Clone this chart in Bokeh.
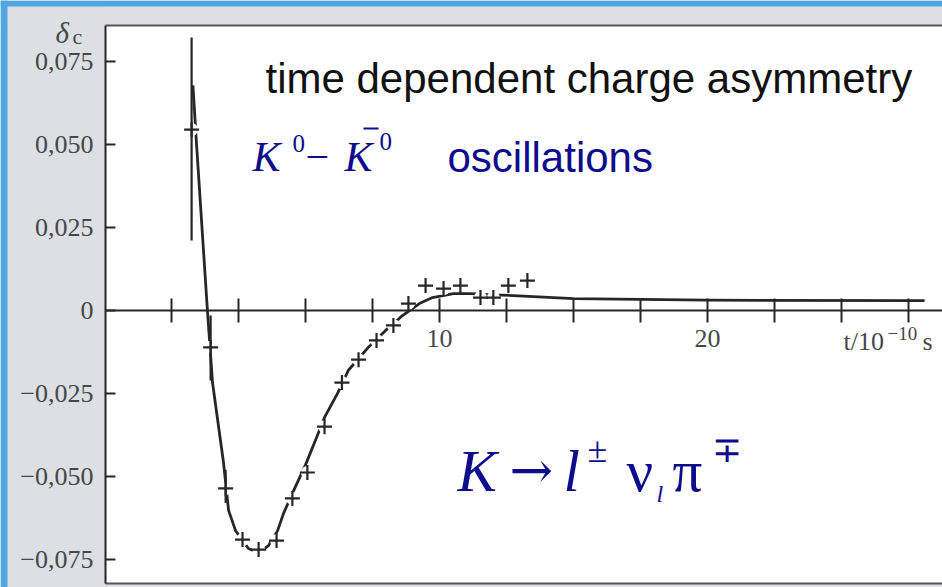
from bokeh.plotting import figure
from bokeh.models import (Range1d, FixedTicker, CustomJSTickFormatter, Label,
                          BoxAnnotation, LinearAxis)
from bokeh.embed import file_html
from bokeh.resources import INLINE
import json

# ---- measured charge asymmetry delta_c (crosses) vs proper time t / 1e-10 s ----
t_points = [0.75, 1.46, 2.02, 2.65, 3.25, 3.92, 4.51, 5.07, 5.71, 6.36, 6.98,
            7.65, 8.28, 8.84, 9.48, 10.15, 10.78, 11.53, 12.01, 12.57, 13.28]
delta_points = [0.0545, -0.0111, -0.0536, -0.0690, -0.0720, -0.0693, -0.0566,
                -0.0488, -0.0350, -0.0217, -0.0148, -0.0090, -0.0045, 0.0021,
                0.0075, 0.0066, 0.0075, 0.0039, 0.0039, 0.0075, 0.0090]

# error bars of the earliest bins
t_err = [0.75, 1.46, 2.02]
delta_err_low = [0.0211, -0.0211, -0.0580]
delta_err_high = [0.0822, -0.0015, -0.0480]

# fitted oscillation curve
t_fit = [0.80, 0.93, 1.34, 1.53, 1.94, 2.13, 2.39, 2.87, 3.25, 3.62, 3.96, 4.18,
         4.60, 5.00, 5.45, 5.71, 6.20, 6.60, 7.31, 7.99, 8.58, 9.25, 9.74, 10.52,
         11.16, 12.00, 12.76, 15.00, 20.00, 28.10]
delta_fit = [0.0678, 0.0506, 0.0000, -0.0217, -0.0458, -0.0602, -0.0663, -0.0717,
             -0.0730, -0.0708, -0.0663, -0.0611, -0.0535, -0.0465, -0.0375, -0.0322,
             -0.0249, -0.0180, -0.0114, -0.0060, -0.0018, 0.0021, 0.0039, 0.0051,
             0.0051, 0.0047, 0.0045, 0.0036, 0.0031, 0.0030]

# axes
y_ticks = [-0.075, -0.05, -0.025, 0.0, 0.025, 0.05, 0.075]
t_ticks = [0.0, 2.5, 5.0, 7.5, 10.0, 12.5, 15.0, 17.5, 20.0, 22.5, 25.0, 27.5]
t_labelled = [10, 20]
t_tick_labels = ["10", "20"]

# visible window and the boxed plot region inside it
t_view = (-6.381, 28.769)
d_view = (-0.08343, 0.09337)
t_axis = -2.463                # position of the delta axis
d_box = (-0.08223, 0.08584)    # lower / upper edge of the boxed region

W, H = 942, 587
INK = "#262626"
SCAN = "#474747"
EDGE = "#555555"
NAVY = "#0c0c8c"
PAPER = "#dcdfe3"
BLUE = "#50a6e0"
SERIF = "Liberation Serif"
SANS = "Liberation Sans"

p = figure(width=W, height=H, output_backend="svg", toolbar_location=None,
           x_range=Range1d(*t_view), y_range=Range1d(*d_view),
           min_border=0, background_fill_color="white",
           border_fill_color=PAPER, outline_line_color=None)
p.title.visible = False
p.xgrid.visible = False
p.ygrid.visible = False

# paper margin around the boxed plot, blue slide edge at left and top
for box in (dict(right=t_axis), dict(bottom=d_box[1]), dict(top=d_box[0])):
    p.add_layout(BoxAnnotation(fill_color=PAPER, fill_alpha=1, line_color=None,
                               level="underlay", **box))
p.add_layout(BoxAnnotation(right=7, right_units="screen", fill_color=BLUE,
                           fill_alpha=1, line_color=None, level="underlay"))
p.add_layout(BoxAnnotation(bottom=H - 6, bottom_units="screen", fill_color=BLUE,
                           fill_alpha=1, line_color=None, level="underlay"))

# delta axis: comma decimals, inward ticks
yax = p.yaxis[0]
yax.fixed_location = t_axis
yax.bounds = d_box
yax.ticker = FixedTicker(ticks=y_ticks)
yax.formatter = CustomJSTickFormatter(code="""
    if (Math.abs(tick) < 1e-9) return "0";
    const s = Math.abs(tick).toFixed(3).replace(".", ",");
    return (tick < 0 ? "\\u2212" : "") + s;
""")
yax.major_tick_in = 10
yax.major_tick_out = 0
yax.minor_tick_line_color = None
yax.axis_line_width = 2
yax.axis_line_color = INK
yax.major_tick_line_width = 2
yax.major_tick_line_color = INK
yax.major_label_standoff = 12
yax.major_label_text_font = SERIF
yax.major_label_text_font_size = "26px"
yax.major_label_text_color = SCAN

# time axis through delta = 0 with crossing ticks
label_map = json.dumps({str(v): s for v, s in zip(t_labelled, t_tick_labels)})
xax = p.xaxis[0]
xax.fixed_location = 0
xax.bounds = (t_axis, t_view[1])
xax.ticker = FixedTicker(ticks=t_ticks)
xax.formatter = CustomJSTickFormatter(
    code="const m = " + label_map + "; const k = String(tick); return (k in m) ? m[k] : '';")
xax.major_tick_in = 12
xax.major_tick_out = 12
xax.minor_tick_line_color = None
xax.axis_line_width = 2
xax.axis_line_color = INK
xax.major_tick_line_width = 2
xax.major_tick_line_color = INK
xax.major_label_standoff = 7
xax.major_label_text_font = SERIF
xax.major_label_text_font_size = "26px"
xax.major_label_text_color = SCAN

# upper and lower edges of the box
for side, loc in (("above", d_box[1]), ("below", d_box[0])):
    edge = LinearAxis(fixed_location=loc, bounds=(t_axis, t_view[1]),
                      ticker=FixedTicker(ticks=[]), axis_line_color=EDGE,
                      axis_line_width=2, major_tick_line_color=None,
                      minor_tick_line_color=None, major_label_text_font_size="0px")
    p.add_layout(edge, side)

# fit curve, broken around the measured points
p.line(t_fit, delta_fit, line_width=2.8, line_color=INK, line_join="round")
p.scatter(t_points, delta_points, marker="circle", size=13,
          fill_color="white", line_color=None)
p.segment(x0=t_err, y0=delta_err_low, x1=t_err, y1=delta_err_high,
          line_width=2.2, line_color=INK)
p.scatter(t_points, delta_points, marker="cross", size=15,
          line_color=INK, line_width=2.2)


def label(text, x, base, size, color, font=SERIF, style="normal"):
    """Place text with its left edge at x and its baseline at page row `base`."""
    p.add_layout(Label(x=x, y=H - base + 0.35 * size, x_units="screen", y_units="screen",
                       text=text, text_font=font, text_font_size=f"{size}px",
                       text_color=color, text_font_style=style,
                       text_baseline="alphabetic", text_align="left"))


# axis names
label("\u03b4", 55, 43, 29, SCAN, style="italic")
label("c", 72, 44, 22, SCAN)
label("t/10", 843, 350, 26, SCAN)
label("\u221210", 887, 340, 19, SCAN)
label("s", 922, 350, 26, SCAN)

# headline
label("time dependent charge asymmetry", 265, 93, 42, "#111111", font=SANS)

# K0 - K0bar oscillations
label("K", 252, 171, 42, NAVY, style="italic")
label("0", 292, 152, 25, NAVY)
label("\u2212", 305, 171, 42, NAVY)
label("K", 344, 171, 42, NAVY, style="italic")
label("0", 379, 150, 25, NAVY)
p.add_layout(BoxAnnotation(left=363, right=378, bottom=H - 129, top=H - 127,
                           left_units="screen", right_units="screen",
                           bottom_units="screen", top_units="screen",
                           fill_color=NAVY, fill_alpha=1, line_color=None))
label("oscillations", 447, 172, 42, NAVY, font=SANS)

# semileptonic decay
label("K", 457, 491, 59, NAVY, style="italic")
label("\u2192", 509, 488, 52, NAVY, font="DejaVu Serif")
label("l", 563, 491, 59, NAVY, style="italic")
label("\u00b1", 587, 462, 36, NAVY)
label("\u03bd", 626, 491, 59, NAVY)
label("l", 656, 502, 24, NAVY, style="italic")
label("\u03c0", 672, 491, 59, NAVY)
label("\u2213", 711, 462, 36, NAVY)

open("out.html", "w").write(file_html(p, INLINE, title="charge asymmetry"))
